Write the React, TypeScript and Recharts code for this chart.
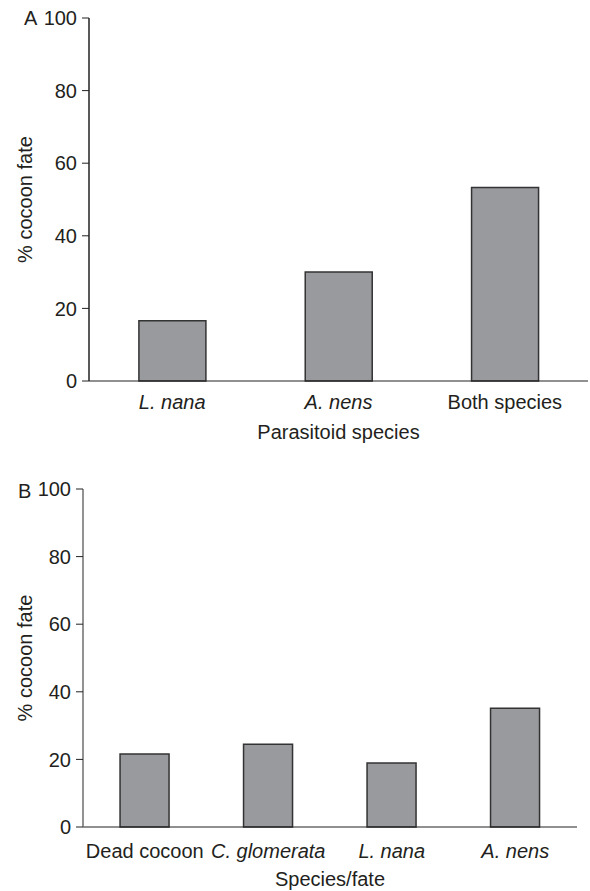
import React from 'react';
import { BarChart, Bar, XAxis, YAxis } from 'recharts';

const catsA = ['L. nana', 'A. nens', 'Both species'];
const valsA = [16.6, 30, 53.3];
const italicA = [true, true, false];

const catsB = ['Dead cocoon', 'C. glomerata', 'L. nana', 'A. nens'];
const valsB = [21.6, 24.5, 18.9, 35.1];
const italicB = [false, true, true, true];

const yTicks = [0, 20, 40, 60, 80, 100];

const FONT = '"Liberation Sans", Arial, sans-serif';
const TEXT = '#231f20';

function makeTick(cats: string[], italic: boolean[]) {
  return (p: any) => {
    const idx = cats.indexOf(p.payload.value);
    return (
      <text
        x={p.x}
        y={p.y}
        dy="0.71em"
        textAnchor="middle"
        fill={TEXT}
        fontSize={20}
        fontFamily={FONT}
        fontStyle={italic[idx] ? 'italic' : 'normal'}
      >
        {p.payload.value}
      </text>
    );
  };
}

type PanelProps = {
  cats: string[];
  vals: number[];
  italic: boolean[];
  xTitle: string;
  height: number;
  marginTop: number;
  marginRight: number;
  yAxisWidth: number;
  yAxisStroke: string;
  labelDx: number;
  tickMargin: number;
  titleOffset: number;
};

function Panel(props: PanelProps) {
  const { cats, vals, italic, xTitle, height, marginTop, marginRight, yAxisWidth, yAxisStroke, labelDx, tickMargin, titleOffset } = props;
  const data = cats.map((c, i) => ({ name: c, v: vals[i] }));
  const bounds = cats.map((_, i) => i).concat([cats.length]);
  return (
    <BarChart
      width={590}
      height={height}
      data={data}
      margin={{ top: marginTop, right: marginRight, bottom: 0, left: 0 }}
      barCategoryGap="30%"
    >
      <XAxis
        xAxisId="bounds"
        type="number"
        domain={[0, cats.length]}
        ticks={bounds}
        allowDataOverflow
        height={0}
        tick={false}
        tickSize={8}
        tickLine={{ stroke: '#222', strokeWidth: 1 }}
        axisLine={false}
      />
      <XAxis
        dataKey="name"
        type="category"
        height={64}
        tickLine={false}
        tickSize={8}
        tickMargin={tickMargin}
        axisLine={{ stroke: '#222', strokeWidth: 1.2 }}
        tick={makeTick(cats, italic)}
        interval={0}
        label={{ value: xTitle, position: 'insideBottom', offset: titleOffset, fill: TEXT, fontSize: 20, fontFamily: FONT }}
      />
      <YAxis
        width={yAxisWidth}
        domain={[0, 100]}
        ticks={yTicks}
        interval={0}
        tickSize={7}
        tickMargin={5}
        tickLine={{ stroke: '#222', strokeWidth: 1 }}
        axisLine={{ stroke: yAxisStroke, strokeWidth: 1.5 }}
        tick={{ fill: TEXT, fontSize: 20, fontFamily: FONT }}
        label={{ value: '% cocoon fate', angle: -90, position: 'center', dx: labelDx, fill: TEXT, fontSize: 20, fontFamily: FONT }}
      />
      <Bar dataKey="v" fill="#999a9e" stroke="#333" strokeWidth={1.5} isAnimationActive={false} />
    </BarChart>
  );
}

export default function App() {
  return (
    <div style={{ position: 'absolute', left: 0, top: 0, width: 590, height: 891, background: '#fff', fontFamily: FONT }}>
      <div style={{ position: 'absolute', left: 0, top: 0 }}>
        <Panel
          cats={catsA}
          vals={valsA}
          italic={italicA}
          xTitle="Parasitoid species"
          height={445}
          marginTop={18}
          marginRight={2}
          yAxisWidth={89}
          yAxisStroke="#222"
          labelDx={-20}
          tickMargin={6}
          titleOffset={6}
        />
      </div>
      <div style={{ position: 'absolute', left: 0, top: 445 }}>
        <Panel
          cats={catsB}
          vals={valsB}
          italic={italicB}
          xTitle="Species/fate"
          height={446}
          marginTop={44}
          marginRight={13}
          yAxisWidth={83}
          yAxisStroke="#6e6e6e"
          labelDx={-17}
          tickMargin={9}
          titleOffset={5}
        />
      </div>
      <div style={{ position: 'absolute', left: 24, top: 8, fontSize: 20, lineHeight: '20px', color: TEXT }}>A</div>
      <div style={{ position: 'absolute', left: 18, top: 481, fontSize: 20, lineHeight: '20px', color: TEXT }}>B</div>
    </div>
  );
}
